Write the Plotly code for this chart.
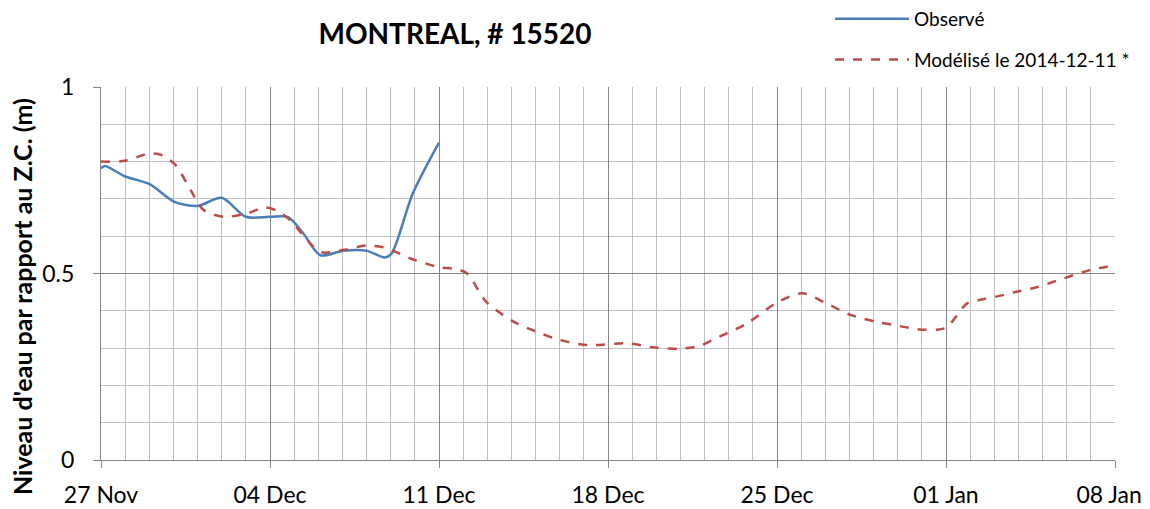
import pandas as pd
import plotly.graph_objects as go

# Observed water level (m above chart datum)
obs_time = [
    "2014-11-27 00:00", "2014-11-27 04:00", "2014-11-28 00:00", "2014-11-29 00:00",
    "2014-11-30 01:00", "2014-12-01 00:00", "2014-12-02 00:00", "2014-12-03 00:00",
    "2014-12-04 00:00", "2014-12-04 18:00", "2014-12-05 09:00", "2014-12-06 02:00",
    "2014-12-07 01:00", "2014-12-08 00:00", "2014-12-08 18:00", "2014-12-09 01:00",
    "2014-12-09 22:00", "2014-12-11 00:00",
]
obs_level = [
    0.782, 0.788, 0.760, 0.740,
    0.692, 0.681, 0.703, 0.652,
    0.652, 0.651, 0.608, 0.549,
    0.561, 0.561, 0.543, 0.554,
    0.715, 0.851,
]

# Modelled water level (forecast issued 2014-12-11)
mod_time = [
    "2014-11-27 00:00", "2014-11-28 00:00", "2014-11-29 00:00", "2014-11-29 12:00",
    "2014-11-30 02:00", "2014-11-30 17:00", "2014-12-01 06:00", "2014-12-02 02:00",
    "2014-12-03 01:00", "2014-12-03 19:00", "2014-12-04 07:00", "2014-12-04 20:00",
    "2014-12-06 02:00", "2014-12-07 01:00", "2014-12-08 00:00", "2014-12-08 20:00",
    "2014-12-09 19:00", "2014-12-11 00:00", "2014-12-11 17:00", "2014-12-12 04:00",
    "2014-12-12 23:00", "2014-12-14 02:00", "2014-12-15 01:00", "2014-12-16 00:00",
    "2014-12-17 03:00", "2014-12-18 19:00", "2014-12-19 21:00", "2014-12-20 23:00",
    "2014-12-21 19:00", "2014-12-22 15:00", "2014-12-23 18:00", "2014-12-25 00:00",
    "2014-12-26 01:00", "2014-12-27 01:00", "2014-12-28 01:00", "2014-12-29 02:00",
    "2014-12-29 20:00", "2014-12-30 19:00", "2014-12-31 15:00", "2015-01-01 01:00",
    "2015-01-01 21:00", "2015-01-02 13:00", "2015-01-03 02:00", "2015-01-03 22:00",
    "2015-01-04 18:00", "2015-01-05 21:00", "2015-01-06 23:00", "2015-01-07 19:00",
]
mod_level = [
    0.800, 0.802, 0.822, 0.818,
    0.791, 0.724, 0.670, 0.652,
    0.661, 0.677, 0.668, 0.643,
    0.558, 0.563, 0.575, 0.568,
    0.541, 0.517, 0.512, 0.500,
    0.424, 0.371, 0.344, 0.322,
    0.308, 0.313, 0.302, 0.298,
    0.306, 0.331, 0.366, 0.422,
    0.447, 0.420, 0.389, 0.371,
    0.362, 0.351, 0.349, 0.356,
    0.420, 0.431, 0.438, 0.451,
    0.463, 0.487, 0.509, 0.520,
]

x_range = ["2014-11-27", "2015-01-08"]
y_range = [0, 1]
x_tick_dates = ["2014-11-27", "2014-12-04", "2014-12-11", "2014-12-18",
                "2014-12-25", "2015-01-01", "2015-01-08"]
x_tick_labels = ["27 Nov", "04 Dec", "11 Dec", "18 Dec", "25 Dec", "01 Jan",
                 "08 Jan\u00a0\u00a0"]
title_text = "MONTREAL, # 15520"
y_title = "Niveau d'eau par rapport au Z.C. (m)"
obs_name = "Observé"
mod_name = "Modélisé le 2014-12-11 *"

FONT = "Lato"
BLUE = "#4A7EBB"
RED = "#BE4B48"
MAJOR = "#868686"
MINOR = "#C0C0C0"

# page body has an 8px default margin: figure is offset by 8px
W, H = 1142, 501
ML, MR, MT, MB = 93, 35, 79, 49
PW, PH = W - ML - MR, H - MT - MB

fig = go.Figure()
fig.add_trace(go.Scatter(
    x=pd.to_datetime(obs_time), y=obs_level, name=obs_name, mode="lines",
    legendgroup="obs",
    line=dict(color=BLUE, width=2.5, shape="spline", smoothing=0.8),
))
fig.add_trace(go.Scatter(
    x=pd.to_datetime(mod_time), y=mod_level, name=mod_name, mode="lines",
    legendgroup="mod",
    line=dict(color=RED, width=2.5, dash="dash", shape="spline", smoothing=0.8),
))

fig.update_layout(
    width=W, height=H,
    margin=dict(l=ML, r=MR, t=MT, b=MB, autoexpand=False),
    paper_bgcolor="white", plot_bgcolor="white",
    font=dict(family=FONT, color="black", size=23),
    title=dict(text="<b>" + title_text + "</b>", x=447 / W, xanchor="center",
               y=1 - 26 / H, yanchor="middle", font=dict(size=28, family=FONT)),
    legend=dict(x=(822 - ML) / PW, y=1 + (MT + 8) / PH, xanchor="left", yanchor="top",
                font=dict(size=19, family=FONT),
                tracegroupgap=13, itemwidth=74, bgcolor="rgba(0,0,0,0)"),
    showlegend=True,
    annotations=[dict(
        text="<b>" + y_title + "</b>", textangle=-90, showarrow=False,
        xref="paper", yref="paper", x=(14 - ML) / PW, y=(H - MB - 289) / PH,
        xanchor="center", yanchor="middle", font=dict(size=25, family=FONT),
    )],
)

fig.update_xaxes(
    type="date", range=x_range,
    tickmode="array", tickvals=pd.to_datetime(x_tick_dates), ticktext=x_tick_labels,
    showgrid=True, gridcolor=MAJOR, gridwidth=1.3,
    minor=dict(dtick=86400000, tick0="2014-11-27", showgrid=True,
               gridcolor=MINOR, gridwidth=1.3),
    ticks="outside", ticklen=7, tickcolor=MAJOR, tickwidth=1.3,
    showline=True, linecolor=MAJOR, linewidth=1.3,
    zeroline=False, tickfont=dict(size=23), ticklabelstandoff=7,
    ticklabeloverflow="allow", automargin=False,
)
fig.update_yaxes(
    range=y_range, dtick=0.5, tick0=0,
    showgrid=True, gridcolor=MAJOR, gridwidth=1.3,
    minor=dict(dtick=0.1, showgrid=True, gridcolor=MINOR, gridwidth=1.3),
    ticks="outside", ticklen=7, tickcolor=MAJOR, tickwidth=1.3,
    showline=True, linecolor=MAJOR, linewidth=1.3,
    zeroline=False, tickfont=dict(size=23), ticklabelstandoff=14,
    automargin=False,
)

fig.write_html("out.html")
